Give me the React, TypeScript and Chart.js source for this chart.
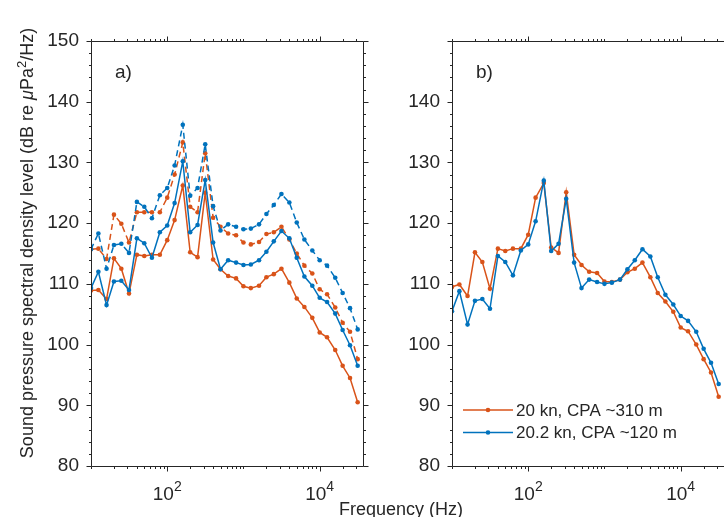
import React, { useEffect, useRef } from 'react';
import { Chart, registerables } from 'chart.js';

Chart.register(...registerables);

// ---------- data ----------
const FREQ = [10, 12.5, 16, 20, 25, 31.5, 40, 50, 63, 80, 100, 125, 160, 200, 250, 315, 400, 500, 630, 800, 1000, 1250, 1600, 2000, 2500, 3150, 4000, 5000, 6300, 8000, 10000, 12500, 16000, 20000, 25000, 31500];

const A_BLUE_DASHED = [115.7, 118.3, 112.5, 116.4, 116.6, 115.1, 123.5, 122.7, 120.8, 124.6, 125.8, 129.5, 136.2, 124.5, 125.8, 133.0, 122.8, 118.8, 119.8, 119.4, 119.0, 119.1, 119.8, 121.5, 123.0, 124.8, 123.4, 120.1, 117.3, 115.5, 113.9, 113.0, 111.0, 108.5, 106.0, 102.5];
const A_ORANGE_DASHED = [115.7, 115.8, 114.1, 121.4, 119.9, 116.8, 121.8, 121.8, 121.8, 121.8, 124.2, 128.0, 133.3, 122.7, 121.8, 131.5, 120.9, 119.4, 118.3, 118.0, 116.8, 116.5, 116.9, 118.2, 118.5, 119.4, 117.3, 115.0, 113.0, 111.7, 109.1, 108.3, 106.1, 103.6, 102.1, 97.6];
const A_BLUE_SOLID = [109.3, 112.0, 106.5, 110.4, 110.5, 109.0, 117.5, 116.7, 114.3, 118.5, 119.6, 123.3, 130.2, 118.5, 119.7, 127.1, 116.8, 112.4, 113.9, 113.5, 113.1, 113.2, 113.9, 115.3, 117.0, 118.7, 117.5, 114.3, 111.2, 109.7, 107.7, 107.0, 105.1, 102.4, 99.9, 96.5];
const A_ORANGE_SOLID = [108.9, 109.0, 107.5, 114.2, 112.5, 108.4, 114.8, 114.6, 114.8, 114.8, 117.2, 120.5, 126.2, 115.2, 114.4, 125.0, 114.0, 112.4, 111.3, 110.9, 109.6, 109.3, 109.7, 111.1, 111.6, 112.5, 110.2, 107.6, 106.2, 104.4, 102.0, 101.2, 99.1, 96.5, 94.5, 90.5];

const B_BLUE = [105.5, 108.8, 103.3, 107.2, 107.5, 105.9, 114.6, 113.6, 111.4, 115.5, 116.5, 120.3, 127.0, 115.4, 116.6, 124.0, 113.5, 109.3, 110.7, 110.3, 110.0, 110.2, 110.7, 112.4, 113.9, 115.7, 114.5, 111.1, 108.2, 106.6, 104.7, 103.9, 102.1, 99.3, 97.0, 93.5];
const B_ORANGE = [109.5, 109.9, 108.0, 115.2, 113.6, 109.2, 115.8, 115.4, 115.8, 115.8, 118.1, 124.2, 126.6, 116.0, 115.1, 125.1, 114.8, 113.1, 112.0, 111.8, 110.4, 110.3, 110.7, 111.9, 112.5, 113.5, 111.1, 108.5, 107.1, 105.4, 102.8, 102.2, 100.0, 97.6, 95.4, 91.4];

const LEGEND_LABELS = ['20 kn, CPA ~310 m', '20.2 kn, CPA ~120 m'];
const PANEL_LABELS = ['a)', 'b)'];
const X_LABEL_EXPONENTS = [2, 4];
const Y_MIN = 80;
const Y_MAX = 150;
const Y_STEP = 10;
const X_MIN = 10;
const X_MAX = 37000;
const X_TITLE = 'Frequency (Hz)';

// ---------- styles ----------
const ORANGE = '#D95319';
const BLUE = '#0072BD';
const TEXT = '#262626';
const FONT = '"Liberation Sans", Arial, sans-serif';

const pts = (arr: number[]) => FREQ.map((f, i) => ({ x: f, y: arr[i] }));

const ds = (arr: number[], color: string, dashed: boolean) => ({
  data: pts(arr),
  borderColor: color,
  backgroundColor: color,
  pointBackgroundColor: color,
  pointBorderWidth: 0,
  pointRadius: 2.3,
  borderWidth: 1.5,
  borderDash: dashed ? [6, 4] : [],
  tension: 0,
  fill: false,
});

const matlabPlugin = {
  id: 'matlab',
  afterDraw(chart: any, _args: any, opts: any) {
    const { ctx, chartArea: a, scales } = chart;
    const xs = scales.x;
    const ys = scales.y;
    ctx.save();
    ctx.strokeStyle = TEXT;
    ctx.lineWidth = 1;
    const L = Math.round(a.left) + 0.5;
    const R = Math.round(a.right) + 0.5;
    const T = Math.round(a.top) + 0.5;
    const B = Math.round(a.bottom) + 0.5;
    ctx.beginPath();
    ctx.moveTo(L, T); ctx.lineTo(R, T); ctx.lineTo(R, B); ctx.lineTo(L, B); ctx.closePath();
    // y ticks
    for (let v = Y_MIN; v <= Y_MAX; v += 2) {
      const py = Math.round(ys.getPixelForValue(v)) + 0.5;
      const len = v % 10 === 0 ? 5 : 2.5;
      ctx.moveTo(L, py); ctx.lineTo(L - len, py);
      ctx.moveTo(R, py); ctx.lineTo(R + len, py);
    }
    // x ticks
    for (let k = 1; k <= 4; k++) {
      for (let m = 1; m <= 9; m++) {
        const v = m * Math.pow(10, k);
        if (v < X_MIN || v > X_MAX) continue;
        const px = Math.round(xs.getPixelForValue(v)) + 0.5;
        const len = (v === 100 || v === 10000) ? 5 : 2.5;
        ctx.moveTo(px, B); ctx.lineTo(px, B + len);
        ctx.moveTo(px, T); ctx.lineTo(px, T - len);
      }
    }
    ctx.stroke();

    ctx.fillStyle = TEXT;
    // x labels 10^n
    for (const e of X_LABEL_EXPONENTS) {
      const px = xs.getPixelForValue(Math.pow(10, e));
      ctx.font = `19px ${FONT}`;
      const w1 = ctx.measureText('10').width;
      ctx.font = `14px ${FONT}`;
      const w2 = ctx.measureText(String(e)).width;
      const x0 = px - (w1 + w2) / 2;
      ctx.textBaseline = 'alphabetic';
      ctx.textAlign = 'left';
      ctx.font = `19px ${FONT}`;
      ctx.fillText('10', x0, 500);
      ctx.font = `14px ${FONT}`;
      ctx.fillText(String(e), x0 + w1, 491);
    }

    // panel label
    ctx.font = `19px ${FONT}`;
    ctx.textBaseline = 'middle';
    ctx.textAlign = 'left';
    ctx.fillText(opts.panel, a.left + 24, a.top + 32);

    // y title
    if (opts.yTitle) {
      ctx.save();
      ctx.translate(27, 243);
      ctx.rotate(-Math.PI / 2);
      const segs = [
        { t: 'Sound pressure spectral density level (dB re ', f: `18px ${FONT}`, dy: 0 },
        { t: 'μ', f: `italic 18px ${FONT}`, dy: 0 },
        { t: 'Pa', f: `18px ${FONT}`, dy: 0 },
        { t: '2', f: `13px ${FONT}`, dy: -7 },
        { t: '/Hz)', f: `18px ${FONT}`, dy: 0 },
      ];
      let total = 0;
      const widths: number[] = [];
      for (const s of segs) { ctx.font = s.f; const w = ctx.measureText(s.t).width; widths.push(w); total += w; }
      let x = -total / 2;
      ctx.textBaseline = 'alphabetic';
      ctx.textAlign = 'left';
      segs.forEach((s, i) => { ctx.font = s.f; ctx.fillText(s.t, x, 6 + s.dy); x += widths[i]; });
      ctx.restore();
    }

    // legend
    if (opts.legend) {
      const rows = [
        { label: LEGEND_LABELS[0], color: ORANGE, y: 410 },
        { label: LEGEND_LABELS[1], color: BLUE, y: 432.5 },
      ];
      for (const r of rows) {
        ctx.strokeStyle = r.color;
        ctx.lineWidth = 1.5;
        ctx.beginPath();
        ctx.moveTo(a.left + 11, r.y); ctx.lineTo(a.left + 61, r.y);
        ctx.stroke();
        ctx.fillStyle = r.color;
        ctx.beginPath();
        ctx.arc(a.left + 36, r.y, 2.3, 0, Math.PI * 2);
        ctx.fill();
        ctx.fillStyle = TEXT;
        ctx.font = `17px ${FONT}`;
        ctx.textBaseline = 'middle';
        ctx.fillText(r.label, a.left + 64, r.y + 1);
      }
    }
    ctx.restore();
  },
};

function makeConfig(datasets: any[], yWidth: number, padRight: number, hideTop: boolean, pluginOpts: any) {
  return {
    type: 'line' as const,
    data: { datasets },
    plugins: [matlabPlugin],
    options: {
      animation: false,
      responsive: false,
      devicePixelRatio: 1,
      layout: { padding: { top: 41, right: padRight, left: 0, bottom: 0 } },
      plugins: {
        legend: { display: false },
        tooltip: { enabled: false },
        matlab: pluginOpts,
      },
      scales: {
        x: {
          type: 'logarithmic',
          min: X_MIN,
          max: X_MAX,
          ticks: { display: false },
          grid: { display: false, drawTicks: false },
          border: { display: false },
          afterFit: (s: any) => { s.height = 51; },
        },
        y: {
          type: 'linear',
          min: Y_MIN,
          max: Y_MAX,
          ticks: {
            stepSize: Y_STEP,
            padding: 12,
            color: TEXT,
            font: { family: FONT, size: 19 },
            callback: (v: any) => (hideTop && v === Y_MAX ? '' : String(v)),
          },
          grid: { display: false, drawTicks: false },
          border: { display: false },
          afterFit: (s: any) => { s.width = yWidth; },
        },
      },
    },
  };
}

export default function App() {
  const refA = useRef<HTMLCanvasElement>(null);
  const refB = useRef<HTMLCanvasElement>(null);

  useEffect(() => {
    const chartA = new Chart(refA.current as HTMLCanvasElement, makeConfig([
      ds(A_BLUE_DASHED, BLUE, true),
      ds(A_BLUE_SOLID, BLUE, false),
      ds(A_ORANGE_DASHED, ORANGE, true),
      ds(A_ORANGE_SOLID, ORANGE, false),
    ], 91, 17, false, { panel: PANEL_LABELS[0], yTitle: true, legend: false }) as any);
    const chartB = new Chart(refB.current as HTMLCanvasElement, makeConfig([
      ds(B_BLUE, BLUE, false),
      ds(B_ORANGE, ORANGE, false),
    ], 72, 16, true, { panel: PANEL_LABELS[1], yTitle: false, legend: true }) as any);
    return () => { chartA.destroy(); chartB.destroy(); };
  }, []);

  return (
    <div style={{ position: 'absolute', left: 0, top: 0, width: 724, height: 517, overflow: 'hidden', background: '#fff' }}>
      <canvas ref={refA} width={380} height={517} style={{ position: 'absolute', left: 0, top: 0, width: 380, height: 517 }} />
      <canvas ref={refB} width={360} height={517} style={{ position: 'absolute', left: 380, top: 0, width: 360, height: 517 }} />
      <div style={{ position: 'absolute', left: 401, top: 500, transform: 'translateX(-50%)', font: `18px ${FONT}`, lineHeight: '18px', color: TEXT, whiteSpace: 'nowrap' }}>{X_TITLE}</div>
    </div>
  );
}
